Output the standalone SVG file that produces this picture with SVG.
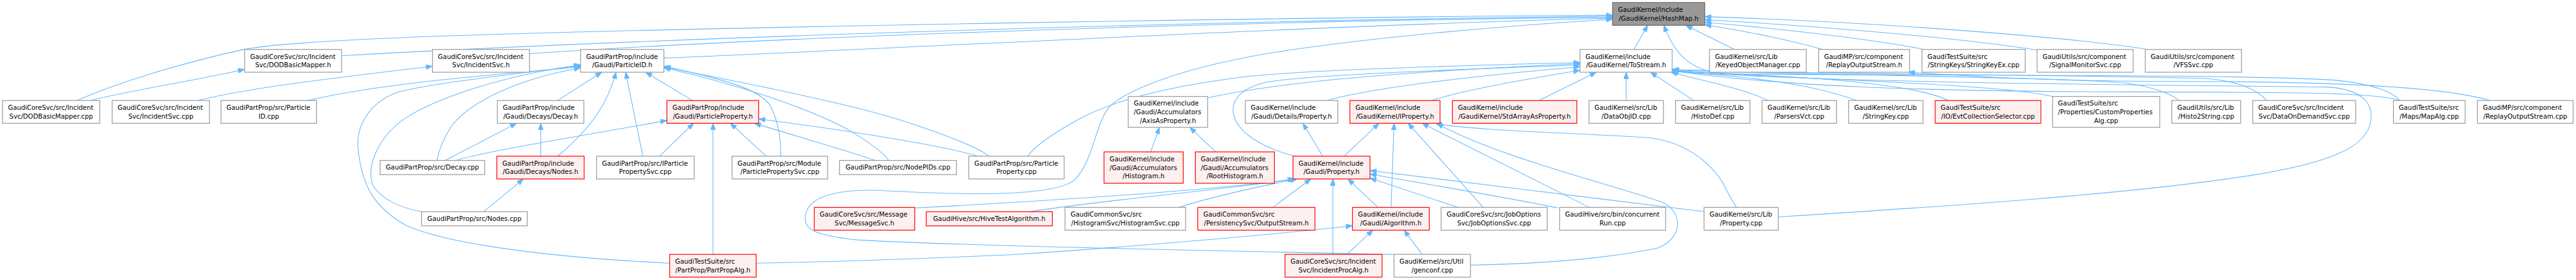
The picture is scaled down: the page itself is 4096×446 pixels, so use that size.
<svg xmlns="http://www.w3.org/2000/svg" width="4096" height="446" viewBox="0 0 4096 446">
<defs>
<marker id="ah" markerWidth="13" markerHeight="10" refX="13" refY="5" orient="auto-start-reverse" markerUnits="userSpaceOnUse" viewBox="0 0 13 10"><path d="M0,0 L13,5 L0,10 z" fill="#63b8ff" stroke="#63b8ff" stroke-width="1"/></marker>
</defs>
<style>
.node rect{fill:#ffffff;stroke:#999999;stroke-width:1.5}
.r rect{fill:#fff0f0;stroke:#ff0000}
.m rect{fill:#999999;stroke:#666666}
text{font-family:"DejaVu Sans",Verdana,sans-serif;font-size:12.8px;fill:#000000}
.c{text-anchor:middle}
#edges path{fill:none;stroke:#63b8ff;stroke-width:1.33;marker-start:url(#ah)}
</style>
<rect width="4096" height="446" fill="#ffffff"/>
<g transform="scale(0.80614)">
<g id="edges">
<path d="M3180.7,30 C2700,33 1500,50 850,72 C650,80 520,88 470,100 C360,125 240,160 151.8,198.6"/>
<path d="M3180.7,32 C2400,40 1300,75 673.8,110"/>
<path d="M3180.7,34 C2400,42 1500,75 1044.4,106"/>
<path d="M3180.7,36 C2600,50 1800,95 1309.5,114.6"/>
<path d="M3180.7,38 C2900,55 2600,85 2450,115 C2300,145 2210,185 2185,215 C2160,250 2155,320 2120,355 C2080,390 1900,385 1750,377 C1660,372 1600,385 1590,420 C1580,455 1610,465 1690,474 C1900,486 2400,495 2749.6,503"/>
<path d="M3250,50 L3223,97.7"/>
<path d="M3325,50 L3421,97.7"/>
<path d="M3362.5,49 C3450,62 3540,82 3595,97.7"/>
<path d="M3362.5,44 C3550,60 3720,82 3795,97.7"/>
<path d="M3362.5,39 C3650,55 3900,80 4018,99"/>
<path d="M3362.5,33 C3700,43 4100,75 4236,97.7"/>
<path d="M3282,50 C3300,100 3330,140 3400,146 C3800,150 4400,146 4600,158 C4680,165 4720,182 4733.7,198.6"/>
<path d="M3116.4,123.5 C2800,132 2530,140 2430,155 C2280,175 2180,205 2120,240 C2070,268 2040,290 2026.9,308.6"/>
<path d="M3116.4,125.5 C2800,140 2530,160 2382,193.3"/>
<path d="M3116.4,128.5 C2800,140 2560,150 2495,163 C2445,175 2428,200 2433,225 C2440,262 2490,292 2554,308.6"/>
<path d="M3116.4,132 C2900,150 2700,175 2617.6,198.6"/>
<path d="M3116.4,139 C3000,158 2880,180 2823.5,198.6"/>
<path d="M3148.7,142.7 L3035.7,198.6"/>
<path d="M3207.5,142.7 L3207.5,198.6"/>
<path d="M3255.4,142.7 L3341,198.6"/>
<path d="M3296,142.7 C3360,160 3440,175 3487.5,198.6"/>
<path d="M3298.3,141 C3400,148 3560,160 3661.4,198.6"/>
<path d="M3298.3,140 C3500,150 3760,158 3843,198.6"/>
<path d="M3298.3,139 C3500,155 3950,165 4049,191"/>
<path d="M3298.3,138 C3500,148 4100,152 4200,165 C4260,175 4285,188 4299,198.6"/>
<path d="M3298.3,137 C3500,146 4100,148 4350,155 C4420,160 4455,180 4471,198.6"/>
<path d="M3298.3,139.5 C3500,170 3800,181 4200,181.6 C4500,182 4690,182 4733.7,198.6"/>
<path d="M3298.3,140.5 C3600,165 4300,168 4590,172 C4660,176 4682,205 4676,240 C4668,290 4600,320 4450,345 C4200,385 3800,410 3507.4,428.6"/>
<path d="M3764,142.7 C3900,152 4050,160 4250,161 C4500,160 4800,165 4910.7,198.6"/>
<path d="M482.5,137 C380,160 250,180 178.9,198.6"/>
<path d="M853,131 C650,155 480,175 390.3,198.6"/>
<path d="M1145.2,132 C950,150 750,165 607,198.6"/>
<path d="M1145.2,130 C1000,148 850,165 785,182 C720,205 700,260 707,300 C715,370 740,410 800,445 C900,490 1150,512 1320.8,520"/>
<path d="M1145.2,128 C1000,148 870,190 805,230 C745,268 722,330 735,365 C752,395 795,412 831.6,418.3"/>
<path d="M1145.2,134 C1000,160 920,210 890,250 C872,278 865,300 861.7,317"/>
<path d="M1187,142.7 L1100,198.6"/>
<path d="M1215,142.7 C1200,200 1170,250 1100,308.6"/>
<path d="M1234,142.7 L1268,308.6"/>
<path d="M1273.6,142.7 L1365.7,198.6"/>
<path d="M1309.5,131 C1420,155 1500,175 1520,210 C1540,250 1540,290 1540,308.6"/>
<path d="M1309.5,132.5 C1500,170 1700,210 1800,245 C1880,272 1930,292 1951,308.6"/>
<path d="M1309.5,134 C1450,165 1600,215 1680,260 C1720,285 1745,305 1753,317"/>
<path d="M1018.9,243.6 L878,317"/>
<path d="M1066.6,243.6 L1066.6,308.6"/>
<path d="M1315.5,238 C1150,268 950,300 899.6,317"/>
<path d="M1368,243.6 L1300.7,308.6"/>
<path d="M1406.4,243.6 L1406.4,502.6"/>
<path d="M1440.6,243.6 L1511.4,308.6"/>
<path d="M1488,243.6 C1580,272 1680,300 1726,317"/>
<path d="M1496.5,235 C1650,255 1850,285 1929,308.6"/>
<path d="M1032.4,353.6 L953.8,418.3"/>
<path d="M2287,251.6 L2269.7,300.1"/>
<path d="M2346.7,251.6 L2398,300.1"/>
<path d="M2553,353.6 C2400,375 2100,395 1804.3,411"/>
<path d="M2556,353.6 C2400,377 2150,398 2032,418.3"/>
<path d="M2559,353.6 C2450,375 2380,392 2325,409.8"/>
<path d="M2585.6,353.6 L2510.5,409.8"/>
<path d="M2629,353.6 L2629,502.6"/>
<path d="M2658.8,353.6 L2718,409.8"/>
<path d="M2702.2,352 L2876,409.8"/>
<path d="M2702.2,344 C2850,370 3000,395 3073,411"/>
<path d="M2702.2,337 C2900,360 3200,400 3360.7,418"/>
<path d="M2569.8,243.6 L2609,308.6"/>
<path d="M2720,243.6 L2651,308.6"/>
<path d="M2749.7,243.6 L2743.8,409.8"/>
<path d="M2777.4,243.6 L2925.7,409.8"/>
<path d="M2805,243.6 L3135,409.8"/>
<path d="M2830.8,243.6 C2900,258 3100,262 3250,272 C3330,280 3385,330 3405,375 C3414,392 3420,402 3425,409.8"/>
<path d="M2834,243.6 C2950,310 3200,370 3280,400 C3320,420 3320,470 3270,490 C3150,515 3000,522 2900.5,523.8"/>
<path d="M2667.6,446 C2500,465 2200,490 2000,503 C1800,512 1600,518 1491.5,520"/>
<path d="M2708,454.8 L2656.8,502.6"/>
<path d="M2769.5,454.8 L2805,502.6"/>
</g>
<g id="hashmap" class="node m"><rect x="3180.7" y="5" width="181.8" height="45"/><text x="3191.5" y="23.5">GaudiKernel/include</text><text class="c" x="3271.6" y="40.5">/GaudiKernel/HashMap.h</text></g>
<g id="dodh" class="node"><rect x="482.5" y="97.7" width="191.3" height="45"/><text x="493.3" y="116.2">GaudiCoreSvc/src/Incident</text><text class="c" x="578.15" y="133.2">Svc/DODBasicMapper.h</text></g>
<g id="incsvch" class="node"><rect x="853" y="97.7" width="191.4" height="45"/><text x="863.8" y="116.2">GaudiCoreSvc/src/Incident</text><text class="c" x="948.7" y="133.2">Svc/IncidentSvc.h</text></g>
<g id="pidh" class="node"><rect x="1145.2" y="97.7" width="164.3" height="45"/><text x="1156" y="116.2">GaudiPartProp/include</text><text class="c" x="1227.35" y="133.2">/Gaudi/ParticleID.h</text></g>
<g id="tostream" class="node"><rect x="3116.4" y="97.7" width="181.9" height="45"/><text x="3127.2" y="116.2">GaudiKernel/include</text><text class="c" x="3207.35" y="133.2">/GaudiKernel/ToStream.h</text></g>
<g id="keyed" class="node"><rect x="3371.9" y="97.7" width="190.8" height="45"/><text x="3382.7" y="116.2">GaudiKernel/src/Lib</text><text class="c" x="3467.3" y="133.2">/KeyedObjectManager.cpp</text></g>
<g id="replayh" class="node"><rect x="3587.1" y="97.7" width="179.4" height="45"/><text x="3597.9" y="116.2">GaudiMP/src/component</text><text class="c" x="3676.8" y="133.2">/ReplayOutputStream.h</text></g>
<g id="strkeyex" class="node"><rect x="3791" y="97.7" width="203.6" height="45"/><text x="3801.8" y="116.2">GaudiTestSuite/src</text><text class="c" x="3892.8" y="133.2">/StringKeys/StringKeyEx.cpp</text></g>
<g id="sigmon" class="node"><rect x="4018" y="97.7" width="189.5" height="45"/><text x="4028.8" y="116.2">GaudiUtils/src/component</text><text class="c" x="4112.75" y="133.2">/SignalMonitorSvc.cpp</text></g>
<g id="vfs" class="node"><rect x="4231.4" y="97.7" width="189.8" height="45"/><text x="4242.2" y="116.2">GaudiUtils/src/component</text><text class="c" x="4326.3" y="133.2">/VFSSvc.cpp</text></g>
<g id="dodcpp" class="node"><rect x="4.9" y="198.6" width="191.9" height="45"/><text x="15.7" y="217.1">GaudiCoreSvc/src/Incident</text><text class="c" x="100.85" y="234.1">Svc/DODBasicMapper.cpp</text></g>
<g id="incsvccpp" class="node"><rect x="221.2" y="198.6" width="191.9" height="45"/><text x="232" y="217.1">GaudiCoreSvc/src/Incident</text><text class="c" x="317.15" y="234.1">Svc/IncidentSvc.cpp</text></g>
<g id="pidcpp" class="node"><rect x="435.8" y="198.6" width="188.7" height="45"/><text x="446.6" y="217.1">GaudiPartProp/src/Particle</text><text class="c" x="530.15" y="234.1">ID.cpp</text></g>
<g id="decayh" class="node"><rect x="981" y="198.6" width="170.7" height="45"/><text x="991.8" y="217.1">GaudiPartProp/include</text><text class="c" x="1066.35" y="234.1">/Gaudi/Decays/Decay.h</text></g>
<g id="pph" class="node r"><rect x="1315.5" y="198.6" width="181" height="45"/><text x="1326.3" y="217.1">GaudiPartProp/include</text><text class="c" x="1406" y="234.1">/Gaudi/ParticleProperty.h</text></g>
<g id="axis" class="node"><rect x="2225.4" y="190.6" width="156.6" height="61"/><text x="2236.2" y="208.6">GaudiKernel/include</text><text x="2236.2" y="225.6">/Gaudi/Accumulators</text><text class="c" x="2303.7" y="242.6">/AxisAsProperty.h</text></g>
<g id="detprop" class="node"><rect x="2456.3" y="198.6" width="182.4" height="45"/><text x="2467.1" y="217.1">GaudiKernel/include</text><text class="c" x="2547.5" y="234.1">/Gaudi/Details/Property.h</text></g>
<g id="iprop" class="node r"><rect x="2662.6" y="198.6" width="177.8" height="45"/><text x="2673.4" y="217.1">GaudiKernel/include</text><text class="c" x="2751.5" y="234.1">/GaudiKernel/IProperty.h</text></g>
<g id="stdarr" class="node r"><rect x="2864.8" y="198.6" width="245.4" height="45"/><text x="2875.6" y="217.1">GaudiKernel/include</text><text class="c" x="2987.5" y="234.1">/GaudiKernel/StdArrayAsProperty.h</text></g>
<g id="dataobjid" class="node"><rect x="3134.2" y="198.6" width="146.8" height="45"/><text x="3145" y="217.1">GaudiKernel/src/Lib</text><text class="c" x="3207.6" y="234.1">/DataObjID.cpp</text></g>
<g id="histodef" class="node"><rect x="3305" y="198.6" width="146.7" height="45"/><text x="3315.8" y="217.1">GaudiKernel/src/Lib</text><text class="c" x="3378.35" y="234.1">/HistoDef.cpp</text></g>
<g id="parsers" class="node"><rect x="3475.5" y="198.6" width="146.9" height="45"/><text x="3486.3" y="217.1">GaudiKernel/src/Lib</text><text class="c" x="3548.95" y="234.1">/ParsersVct.cpp</text></g>
<g id="strkey" class="node"><rect x="3646.3" y="198.6" width="146.7" height="45"/><text x="3657.1" y="217.1">GaudiKernel/src/Lib</text><text class="c" x="3719.65" y="234.1">/StringKey.cpp</text></g>
<g id="evtcol" class="node r"><rect x="3817" y="198.6" width="208.5" height="45"/><text x="3827.8" y="217.1">GaudiTestSuite/src</text><text class="c" x="3921.25" y="234.1">/IO/EvtCollectionSelector.cpp</text></g>
<g id="custprop" class="node"><rect x="4048.5" y="190.6" width="211.5" height="61"/><text x="4059.3" y="208.6">GaudiTestSuite/src</text><text x="4059.3" y="225.6">/Properties/CustomProperties</text><text class="c" x="4154.25" y="242.6">Alg.cpp</text></g>
<g id="histo2str" class="node"><rect x="4283.8" y="198.6" width="135.7" height="45"/><text x="4294.6" y="217.1">GaudiUtils/src/Lib</text><text class="c" x="4351.65" y="234.1">/Histo2String.cpp</text></g>
<g id="dods" class="node"><rect x="4443.3" y="198.6" width="203.2" height="45"/><text x="4454.1" y="217.1">GaudiCoreSvc/src/Incident</text><text class="c" x="4544.9" y="234.1">Svc/DataOnDemandSvc.cpp</text></g>
<g id="mapalg" class="node"><rect x="4720.8" y="198.6" width="141.6" height="45"/><text x="4731.6" y="217.1">GaudiTestSuite/src</text><text class="c" x="4791.6" y="234.1">/Maps/MapAlg.cpp</text></g>
<g id="replaycpp" class="node"><rect x="4886.6" y="198.6" width="188.8" height="45"/><text x="4897.4" y="217.1">GaudiMP/src/component</text><text class="c" x="4981" y="234.1">/ReplayOutputStream.cpp</text></g>
<g id="decaycpp" class="node"><rect x="749.7" y="317" width="206.3" height="28"/><text class="c" x="852.85" y="335.5">GaudiPartProp/src/Decay.cpp</text></g>
<g id="nodesh" class="node r"><rect x="979.9" y="308.6" width="172.3" height="45"/><text x="990.7" y="327.1">GaudiPartProp/include</text><text class="c" x="1066.05" y="344.1">/Gaudi/Decays/Nodes.h</text></g>
<g id="ippsvc" class="node"><rect x="1176.7" y="308.6" width="192.5" height="45"/><text x="1187.5" y="327.1">GaudiPartProp/src/IParticle</text><text class="c" x="1272.95" y="344.1">PropertySvc.cpp</text></g>
<g id="modpps" class="node"><rect x="1444" y="308.6" width="188.4" height="45"/><text x="1454.8" y="327.1">GaudiPartProp/src/Module</text><text class="c" x="1538.2" y="344.1">/ParticlePropertySvc.cpp</text></g>
<g id="nodepids" class="node"><rect x="1655.8" y="317" width="230.7" height="28"/><text class="c" x="1771.15" y="335.5">GaudiPartProp/src/NodePIDs.cpp</text></g>
<g id="ppcpp" class="node"><rect x="1910.9" y="308.6" width="188.1" height="45"/><text x="1921.7" y="327.1">GaudiPartProp/src/Particle</text><text class="c" x="2004.95" y="344.1">Property.cpp</text></g>
<g id="histh" class="node r"><rect x="2177.6" y="300.1" width="156.2" height="62"/><text x="2188.4" y="318.6">GaudiKernel/include</text><text x="2188.4" y="335.6">/Gaudi/Accumulators</text><text class="c" x="2255.7" y="352.6">/Histogram.h</text></g>
<g id="roothist" class="node r"><rect x="2357.6" y="300.1" width="156.1" height="62"/><text x="2368.4" y="318.6">GaudiKernel/include</text><text x="2368.4" y="335.6">/Gaudi/Accumulators</text><text class="c" x="2435.65" y="352.6">/RootHistogram.h</text></g>
<g id="proph" class="node r"><rect x="2550.4" y="308.6" width="151.8" height="45"/><text x="2561.2" y="327.1">GaudiKernel/include</text><text class="c" x="2626.3" y="344.1">/Gaudi/Property.h</text></g>
<g id="nodescpp" class="node"><rect x="831.6" y="418.3" width="208.4" height="28"/><text class="c" x="935.8" y="436.8">GaudiPartProp/src/Nodes.cpp</text></g>
<g id="msgsvc" class="node r"><rect x="1606" y="409.8" width="198.3" height="45"/><text x="1616.8" y="428.3">GaudiCoreSvc/src/Message</text><text class="c" x="1705.15" y="445.3">Svc/MessageSvc.h</text></g>
<g id="hivetest" class="node r"><rect x="1826.9" y="418.3" width="248.8" height="28"/><text class="c" x="1951.3" y="436.8">GaudiHive/src/HiveTestAlgorithm.h</text></g>
<g id="histsvc" class="node"><rect x="2100.7" y="409.8" width="237.9" height="45"/><text x="2111.5" y="428.3">GaudiCommonSvc/src</text><text class="c" x="2219.65" y="445.3">/HistogramSvc/HistogramSvc.cpp</text></g>
<g id="outstream" class="node r"><rect x="2362.5" y="409.8" width="231.1" height="45"/><text x="2373.3" y="428.3">GaudiCommonSvc/src</text><text class="c" x="2478.05" y="445.3">/PersistencySvc/OutputStream.h</text></g>
<g id="algh" class="node r"><rect x="2667.6" y="409.8" width="151.6" height="45"/><text x="2678.4" y="428.3">GaudiKernel/include</text><text class="c" x="2743.4" y="445.3">/Gaudi/Algorithm.h</text></g>
<g id="jobopt" class="node"><rect x="2842.5" y="409.8" width="209.3" height="45"/><text x="2853.3" y="428.3">GaudiCoreSvc/src/JobOptions</text><text class="c" x="2947.15" y="445.3">Svc/JobOptionsSvc.cpp</text></g>
<g id="concurrent" class="node"><rect x="3076.2" y="409.8" width="209.2" height="45"/><text x="3087" y="428.3">GaudiHive/src/bin/concurrent</text><text class="c" x="3180.8" y="445.3">Run.cpp</text></g>
<g id="propcpp" class="node"><rect x="3361.1" y="409.8" width="146.3" height="45"/><text x="3371.9" y="428.3">GaudiKernel/src/Lib</text><text class="c" x="3434.25" y="445.3">/Property.cpp</text></g>
<g id="partpropalg" class="node r"><rect x="1320.8" y="502.6" width="170.7" height="45"/><text x="1331.6" y="521.1">GaudiTestSuite/src</text><text class="c" x="1406.15" y="538.1">/PartProp/PartPropAlg.h</text></g>
<g id="incprocalg" class="node r"><rect x="2534.6" y="502.6" width="191.4" height="45"/><text x="2545.4" y="521.1">GaudiCoreSvc/src/Incident</text><text class="c" x="2630.3" y="538.1">Svc/IncidentProcAlg.h</text></g>
<g id="genconf" class="node"><rect x="2749.6" y="502.6" width="150.9" height="45"/><text x="2760.4" y="521.1">GaudiKernel/src/Util</text><text class="c" x="2825.05" y="538.1">/genconf.cpp</text></g>
</g>
</svg>
